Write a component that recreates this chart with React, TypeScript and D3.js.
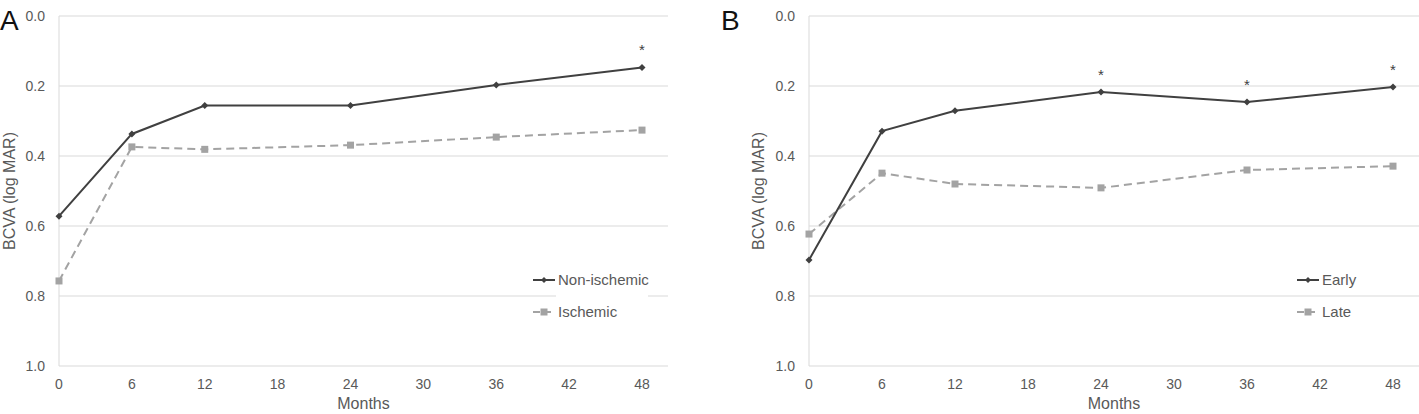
import React from "react";
import * as d3 from "d3";

// Months of follow-up
const months = [0, 6, 12, 24, 36, 48];
const xTicks = [0, 6, 12, 18, 24, 30, 36, 42, 48];
const yTicks = [0, 0.2, 0.4, 0.6, 0.8, 1.0];

// Panel A: BCVA by perfusion status
const nonIschemic = [0.572, 0.337, 0.256, 0.256, 0.197, 0.147];
const ischemic = [0.757, 0.374, 0.381, 0.369, 0.346, 0.326];
const starsA = [48];

// Panel B: BCVA by treatment timing
const early = [0.697, 0.329, 0.271, 0.217, 0.246, 0.203];
const late = [0.623, 0.449, 0.48, 0.491, 0.44, 0.429];
const starsB = [24, 36, 48];

const FONT = "Liberation Sans, Arial, sans-serif";
const DARK = "#404040";
const LIGHT = "#a3a3a3";
const GRID = "#d9d9d9";
const TEXT = "#595959";

type PanelProps = {
  letter: string;
  letterX: number;
  titleX: number;
  x0: number;
  x48: number;
  gridEnd: number;
  solid: number[];
  dashed: number[];
  solidName: string;
  dashedName: string;
  stars: number[];
  legendX: number;
  legendGap?: [number, number];
};

function Panel(p: PanelProps) {
  const x = d3.scaleLinear().domain([0, 48]).range([p.x0, p.x48]);
  const y = d3.scaleLinear().domain([0, 1]).range([16, 366]);
  const line = d3
    .line<number>()
    .x((_, i) => x(months[i]))
    .y((v) => y(v));
  const starY = (m: number) => y(p.solid[months.indexOf(m)]) - 12;
  const diamond = (cx: number, cy: number, r: number) =>
    `M${cx},${cy - r}L${cx + r},${cy}L${cx},${cy + r}L${cx - r},${cy}Z`;
  const midX = (p.x0 + p.gridEnd) / 2;

  return (
    <g>
      <text x={p.letterX} y={30} fontFamily={FONT} fontSize={28} fill="#111">
        {p.letter}
      </text>
      {yTicks.map((t) => (
        <g key={t}>
          <line x1={p.x0} x2={p.gridEnd} y1={y(t)} y2={y(t)} stroke={GRID} strokeWidth={1} />
          <text
            x={p.x0 - 14}
            y={y(t)}
            dy="0.35em"
            textAnchor="end"
            fontFamily={FONT}
            fontSize={14}
            fill={TEXT}
          >
            {t.toFixed(1)}
          </text>
        </g>
      ))}
      <line x1={p.x0} x2={p.x0} y1={y(0)} y2={y(1)} stroke={GRID} strokeWidth={1} />
      {p.legendGap && (
        <rect x={p.legendGap[0]} y={y(0.8) - 2} width={p.legendGap[1] - p.legendGap[0]} height={4} fill="#fff" />
      )}
      {xTicks.map((t) => (
        <text
          key={t}
          x={x(t)}
          y={389}
          textAnchor="middle"
          fontFamily={FONT}
          fontSize={14}
          fill={TEXT}
        >
          {t}
        </text>
      ))}
      <text x={midX} y={409} textAnchor="middle" fontFamily={FONT} fontSize={16} fill={TEXT}>
        Months
      </text>
      <text
        transform={`translate(${p.titleX},${y(0.5)}) rotate(-90)`}
        textAnchor="middle"
        dy="0.35em"
        fontFamily={FONT}
        fontSize={16}
        fill={TEXT}
      >
        BCVA (log MAR)
      </text>

      <path d={line(p.dashed) ?? ""} fill="none" stroke={LIGHT} strokeWidth={2} strokeDasharray="8,5" />
      {p.dashed.map((v, i) => (
        <rect key={i} x={x(months[i]) - 3.5} y={y(v) - 3.5} width={7} height={7} fill={LIGHT} />
      ))}
      <path d={line(p.solid) ?? ""} fill="none" stroke={DARK} strokeWidth={2} />
      {p.solid.map((v, i) => (
        <path key={i} d={diamond(x(months[i]), y(v), 3.5)} fill={DARK} />
      ))}
      {p.stars.map((m) => (
        <text key={m} x={x(m)} y={starY(m)} textAnchor="middle" fontFamily={FONT} fontSize={15} fill={DARK}>
          *
        </text>
      ))}

      {/* legend */}
      <g transform={`translate(${p.legendX},0)`}>
        <line x1={0} x2={22} y1={280} y2={280} stroke={DARK} strokeWidth={2} />
        <path d={diamond(11, 280, 3)} fill={DARK} />
        <text x={25} y={280} dy="0.35em" fontFamily={FONT} fontSize={15} fill={TEXT}>
          {p.solidName}
        </text>
        <line x1={0} x2={22} y1={312} y2={312} stroke={LIGHT} strokeWidth={2} strokeDasharray="7,4" />
        <rect x={7.5} y={308.5} width={7} height={7} fill={LIGHT} />
        <text x={25} y={312} dy="0.35em" fontFamily={FONT} fontSize={15} fill={TEXT}>
          {p.dashedName}
        </text>
      </g>
    </g>
  );
}

export default function App() {
  return (
    <svg
      width={1419}
      height={414}
      style={{ position: "absolute", left: 0, top: 0, background: "#fff" }}
    >
      <rect width={1419} height={414} fill="#fff" />
      <Panel
        letter="A"
        letterX={0}
        titleX={9}
        x0={59}
        x48={642}
        gridEnd={668}
        solid={nonIschemic}
        dashed={ischemic}
        solidName="Non-ischemic"
        dashedName="Ischemic"
        stars={starsA}
        legendX={533}
        legendGap={[556, 648]}
      />
      <Panel
        letter="B"
        letterX={721}
        titleX={758}
        x0={809}
        x48={1393}
        gridEnd={1419}
        solid={early}
        dashed={late}
        solidName="Early"
        dashedName="Late"
        stars={starsB}
        legendX={1297}
      />
    </svg>
  );
}
